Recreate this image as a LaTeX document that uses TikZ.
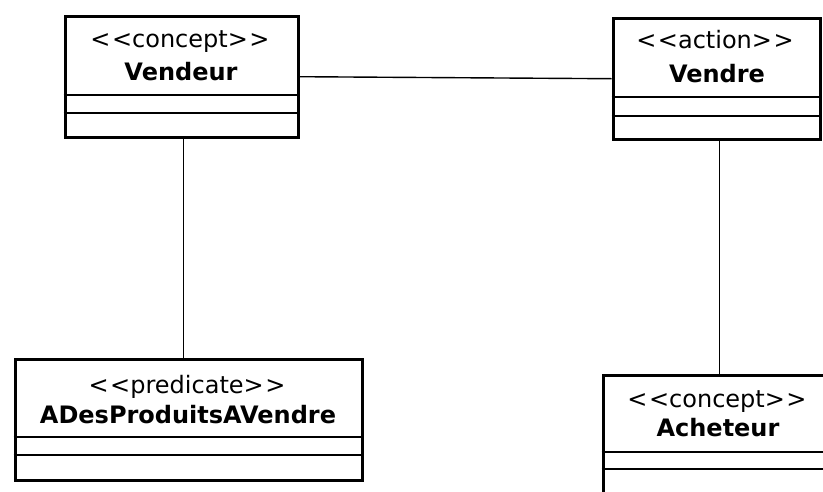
\documentclass[tikz,border=0pt]{standalone}
\usepackage{fontspec}
\setmainfont{DejaVu Sans}
\usepackage{tikz}
\usetikzlibrary{positioning}

\newcommand\stereotype[1]{<\kern1.5pt<#1>\kern1.5pt>}

\tikzset{
  classbox/.style={draw, line width=3.4pt, inner sep=0pt, minimum height=121pt, anchor=north west},
  stereo/.style={anchor=base, inner sep=0pt, font=\fontsize{24}{28}\selectfont},
  title/.style={anchor=base, inner sep=0pt, font=\fontsize{24}{28}\selectfont\bfseries},
  slot/.style={line width=1.6pt},
  link/.style={line width=1.4pt}
}

\begin{document}
\begin{tikzpicture}[x=1pt, y=-1pt]
    \useasboundingbox (0, 0) rectangle (823, 491);
    \clip (0, 0) rectangle (823, 491);

    \node[classbox, minimum width=233pt] (vendeur) at (63.5, 14.5) {};
    \node[stereo] (vendeurS) at (180, 47) {\stereotype{concept}};
    \node[title] (vendeurT) at (181, 80) {Vendeur};
    \draw[slot] (63.5, 95) -- (296.5, 95);
    \draw[slot] (63.5, 113) -- (296.5, 113);

    \node[classbox, minimum width=207pt] (vendre) at (611.5, 16.5) {};
    \node[stereo] (vendreS) at (715, 48) {\stereotype{action}};
    \node[title] (vendreT) at (717, 82) {Vendre};
    \draw[slot] (611.5, 97) -- (818.5, 97);
    \draw[slot] (611.5, 116) -- (818.5, 116);

    \node[classbox, minimum width=347pt] (adp) at (13.5, 357.5) {};
    \node[stereo] (adpS) at (187, 393) {\stereotype{predicate}};
    \node[title] (adpT) at (188, 423) {ADesProduitsAVendre};
    \draw[slot] (13.5, 437) -- (360.5, 437);
    \draw[slot] (13.5, 455) -- (360.5, 455);

    \node[classbox, minimum width=233pt] (acheteur) at (601.5, 373.5) {};
    \node[stereo] (acheteurS) at (717, 407) {\stereotype{concept}};
    \node[title] (acheteurT) at (718, 436) {Acheteur};
    \draw[slot] (601.5, 452) -- (834.5, 452);
    \draw[slot] (601.5, 469) -- (834.5, 469);

    \draw[link] (vendeur.east) -- (vendre.west);
    \draw[link] ([xshift=2pt]vendeur.south) -- ([xshift=2pt]vendeur.south |- adp.north);
    \draw[link] (acheteur.north |- vendre.south) -- (acheteur.north);
\end{tikzpicture}
\end{document}
